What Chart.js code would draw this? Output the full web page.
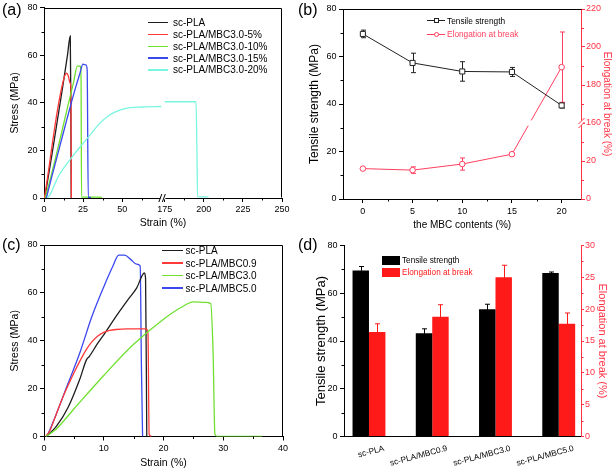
<!DOCTYPE html>
<html><head><meta charset="utf-8">
<script src="https://cdn.jsdelivr.net/npm/chart.js@4.4.0/dist/chart.umd.min.js"></script>
<style>
html,body{margin:0;padding:0;background:#fff;}
body{width:614px;height:470px;position:relative;overflow:hidden;font-family:'Liberation Sans',Arial,sans-serif;}
canvas{position:absolute;}
.lbl{position:absolute;white-space:nowrap;line-height:1;color:#000;}
.row{position:absolute;white-space:nowrap;display:flex;align-items:center;font-family:'Liberation Sans',Arial,sans-serif;}
</style></head><body>
<canvas id="ca" width="307" height="235" style="left:0;top:0"></canvas>
<canvas id="cb" width="307" height="235" style="left:307px;top:0"></canvas>
<canvas id="cc" width="307" height="235" style="left:0;top:235px"></canvas>
<canvas id="cd" width="307" height="235" style="left:307px;top:235px"></canvas>
<div class="lbl" style="left:2px;top:2px;font-size:16px">(a)</div>
<div class="lbl" style="left:298px;top:2px;font-size:16px">(b)</div>
<div class="lbl" style="left:2px;top:237px;font-size:16px">(c)</div>
<div class="lbl" style="left:298px;top:237px;font-size:16px">(d)</div>
<script>
// ---------------- Panel (a): stress-strain, MBC3.0 loading ----------------
const A_SERIES = ['sc-PLA','sc-PLA/MBC3.0-5%','sc-PLA/MBC3.0-10%','sc-PLA/MBC3.0-15%','sc-PLA/MBC3.0-20%'];
const A_COLORS = ['#1e1e1e','#ff3838','#6fe030','#3a48ee','#7af5e0'];
const A_X_TICKS = [0,25,50,175,200,225,250];
const A_X_MINOR = [12.5,37.5,62.5,187.5,212.5,237.5];
const A_Y_TICKS = [0,20,40,60,80];
const A_Y_MINOR = [10,30,50,70];
const A_BREAK = [76,173.8];
const A_PLA   = [[0.5,0],[3,10],[6,22],[9,34.5],[12,47],[15,60],[16.8,68.2],[17.1,45],[17.4,0]];
const A_MBC5  = [[0.3,0],[3,12],[6,26],[9,38.5],[11.5,47],[13.3,51.5],[14.4,52.5],[15.5,51.5],[16.6,48.5],[17.2,46],[17.5,0]];
const A_MBC10 = [[0.8,0],[5,10.5],[10,24],[15,38],[19,49],[21.3,55.5],[23.2,55.5],[23.7,50],[24,0.4],[30,0.4],[37,0.3]];
const A_MBC15 = [[1.5,0],[5,9],[10,21.5],[15,34],[20,46],[23,52.5],[24.9,56.3],[26.8,56],[27.6,54],[28.3,0.3],[30,0.3]];
const A_MBC20 = [[2,0],[4,1.5],[6,4.5],[8,7.5],[10,10],[14,13.8],[20,19],[25,23],[30,27],[35,31],[40,34],[45,36],[50,37.3],[55,38],[62,38.3],[75,38.5],[175,40.5],[195,40.5],[195.6,20],[196,0.6],[203,0.5]];

// ---------------- Panel (b): properties vs MBC content ----------------
const B_CONTENT = [0,5,10,15,20];
const B_X_TICKS = [0,5,10,15,20];
const B_X_MINOR = [2.5,7.5,12.5,17.5];
const B_Y_TICKS = [0,20,40,60,80];
const B_Y_MINOR = [10,30,50,70];
const B_Y2_TICKS = [0,20,160,180,200,220];
const B_Y2_MINOR = [10,30,170,190,210];
const B_BREAK = [40,160];
const B_TENSILE = [69.5,57.3,53.7,53.5,39.4];
const B_TENSILE_ERR = [1.6,4.1,4.1,1.9,1.1];
const B_ELONG = [16.0,15.2,18.4,23.6,189.4];
const B_ELONG_ERR = [0.6,1.7,3.2,0.6,18.5];

// ---------------- Panel (c): stress-strain, MBC grades ----------------
const C_SERIES = ['sc-PLA','sc-PLA/MBC0.9','sc-PLA/MBC3.0','sc-PLA/MBC5.0'];
const C_COLORS = ['#1e1e1e','#ff3838','#6fe030','#3a48ee'];
const C_X_TICKS = [0,10,20,30,40];
const C_X_MINOR = [5,15,25,35];
const C_Y_TICKS = [0,20,40,60,80];
const C_Y_MINOR = [10,30,50,70];
const C_PLA   = [[0.4,0],[2,4],[4,12],[6,24],[7.1,32],[7.6,33.5],[9,39],[10,42.5],[12,50],[14,57],[15.5,62],[16.8,68.3],[17,66],[17.2,0]];
const C_MBC09 = [[0.3,0],[1,2.5],[2,9],[3,15.5],[5,26.5],[6,31.5],[7,36],[8,39.5],[9,42],[10,43.5],[11,44.3],[12,44.7],[14,45],[17.1,45],[17.4,43],[17.6,0.8],[18,0]];
const C_MBC30 = [[0.3,0],[2,3],[5,11.5],[10,25.5],[15,38.5],[20,49],[23,54],[25,56.2],[27,56],[27.9,55.5],[28.3,35],[28.6,1],[29,0],[36.5,0]];
const C_MBC50 = [[0.5,0],[2,9],[4,22],[6,35],[8,50],[10,62.5],[11.5,71],[12.5,75.8],[13.5,75.8],[14.5,74],[15.5,72],[16.1,71.2],[16.3,30],[16.5,0]];

// ---------------- Panel (d): bars ----------------
const D_CATS = ['sc-PLA','sc-PLA/MBC0.9','sc-PLA/MBC3.0','sc-PLA/MBC5.0'];
const D_Y_TICKS = [0,20,40,60,80];
const D_Y_MINOR = [10,30,50,70];
const D_Y2_TICKS = [0,5,10,15,20,25,30];
const D_Y2_MINOR = [2.5,7.5,12.5,17.5,22.5,27.5];
const D_TENSILE = [69.5,43.2,53.3,68.5];
const D_TENSILE_ERR = [1.7,1.9,2.1,0.4];
const D_ELONG = [16.4,18.8,25.0,17.7];
const D_ELONG_ERR = [1.3,1.9,1.9,1.7];

const RED_B = '#ff3f5f';
const RED_D = '#ff1a1a';
const RED_AX = '#ff3344';

Chart.defaults.font.family = "'Liberation Sans', Arial, sans-serif";
Chart.defaults.color = '#000';
Chart.defaults.animation = false;
Chart.defaults.plugins.legend.display = false;
Chart.defaults.plugins.tooltip.enabled = false;

// broken-axis maps
const mapA = v => v <= A_BREAK[0] ? v : (v >= A_BREAK[1] ? v - (A_BREAK[1]-A_BREAK[0]) : A_BREAK[0]);
const mapB = v => v <= B_BREAK[0] ? v : (v >= B_BREAK[1] ? v - (B_BREAK[1]-B_BREAK[0]) : B_BREAK[0]);

function axis(o){
  const horiz = o.pos === 'bottom';
  const map = o.map || (v=>v);
  return {
    type:'linear', position:o.pos, min:o.min, max:o.max, offset:false,
    border:{display:true,color:o.color||'#000',width:1},
    grid:{display:true,drawOnChartArea:false,drawTicks:o.tickLen!==0,tickLength:o.tickLen===undefined?4:o.tickLen,color:o.color||'#000',offset:false},
    ticks:{autoSkip:false,maxRotation:o.rot||0,minRotation:o.rot||0,padding:o.pad===undefined?2:o.pad,
      color:o.color||'#000',font:{size:o.fs||9},labelOffset:o.labelOffset||0,
      callback:(v,i)=>o.labels[i]},
    afterBuildTicks:s=>{ s.ticks = o.values.map(v=>({value:map(v)})); },
    afterFit:s=>{ if(horiz) s.height=o.size; else s.width=o.size; },
    title:{display:!!o.title,text:o.title,color:o.color||'#000',font:{size:o.tfs||10},padding:o.tpad||0}
  };
}

function deco(cfg){
  return {
    id:'deco',
    beforeDatasetsDraw(chart){
      const ctx = chart.ctx;
      (cfg.err||[]).forEach(e=>{
        const meta = chart.getDatasetMeta(e.ds);
        const ys = chart.scales[meta.yAxisID];
        const map = e.map || (v=>v);
        ctx.save(); ctx.strokeStyle=e.color; ctx.lineWidth=1;
        meta.data.forEach((el,i)=>{
          const v=e.values[i], d=e.errs[i];
          const y1=ys.getPixelForValue(map(v-d)), y2=ys.getPixelForValue(map(v+d));
          const x=Math.round(el.x)+0.5;
          ctx.beginPath();
          ctx.moveTo(x,y1); ctx.lineTo(x,y2);
          ctx.moveTo(x-e.cap,y1); ctx.lineTo(x+e.cap,y1);
          ctx.moveTo(x-e.cap,y2); ctx.lineTo(x+e.cap,y2);
          ctx.stroke();
        });
        ctx.restore();
      });
    },
    afterDraw(chart){
      const ctx=chart.ctx, a=chart.chartArea;
      ctx.save(); ctx.lineWidth=1;
      const L=Math.round(a.left)+0.5, R=Math.round(a.right)-0.5, T=Math.round(a.top)+0.5, B=Math.round(a.bottom)-0.5;
      ctx.strokeStyle='#000';
      (cfg.frame||[]).forEach(side=>{
        ctx.beginPath();
        if(side==='top'){ctx.moveTo(L,T);ctx.lineTo(R,T);}
        if(side==='right'){ctx.moveTo(R,T);ctx.lineTo(R,B);}
        ctx.stroke();
      });
      (cfg.minor||[]).forEach(m=>{
        const s=chart.scales[m.axis]; const map=m.map||(v=>v);
        ctx.strokeStyle=m.color||'#000';
        m.values.forEach(v=>{
          const p=Math.round(s.getPixelForValue(map(v)))+0.5;
          ctx.beginPath();
          if(s.isHorizontal()){ctx.moveTo(p,a.bottom);ctx.lineTo(p,a.bottom+2.5);}
          else if(s.position==='left'){ctx.moveTo(a.left,p);ctx.lineTo(a.left-2.5,p);}
          else {ctx.moveTo(a.right,p);ctx.lineTo(a.right+2.5,p);}
          ctx.stroke();
        });
      });
      (cfg.breaks||[]).forEach(b=>{
        const s=chart.scales[b.axis]; const p=s.getPixelForValue(b.value);
        ctx.strokeStyle=b.color||'#000';
        if(s.isHorizontal()){
          const y=a.bottom;
          ctx.fillStyle='#fff'; ctx.fillRect(p-2.5,y-1.5,5,3);
          ctx.beginPath();
          ctx.moveTo(p-4,y+4);ctx.lineTo(p-1,y-4);
          ctx.moveTo(p-0.5,y+4);ctx.lineTo(p+2.5,y-4);
          ctx.stroke();
        } else {
          const x=a.right;
          ctx.fillStyle='#fff'; ctx.fillRect(x-1.5,p-2.5,3,5);
          ctx.beginPath();
          ctx.moveTo(x-3,p+1);ctx.lineTo(x+3,p-5);
          ctx.moveTo(x-3,p+5);ctx.lineTo(x+3,p-1);
          ctx.stroke();
        }
      });
      ctx.restore();
    }
  };
}

function curvePts(arr, map, brk){
  const out=[]; let prev=null;
  arr.forEach(([x,y])=>{
    if(brk && prev!==null && prev<brk[0] && x>brk[1]) out.push({x:map(brk[0]),y:null});
    out.push({x:map(x),y}); prev=x;
  });
  return out;
}
function curveDs(label,color,pts){
  return {label,data:pts,borderColor:color,backgroundColor:color,borderWidth:1.3,pointRadius:0,
    cubicInterpolationMode:'monotone',spanGaps:false};
}

// ---------- Chart A ----------
new Chart(document.getElementById('ca'),{
  type:'line',
  data:{datasets:[
    curveDs(A_SERIES[4],A_COLORS[4],curvePts(A_MBC20,mapA,A_BREAK)),
    curveDs(A_SERIES[3],A_COLORS[3],curvePts(A_MBC15,mapA,A_BREAK)),
    curveDs(A_SERIES[2],A_COLORS[2],curvePts(A_MBC10,mapA,A_BREAK)),
    curveDs(A_SERIES[1],A_COLORS[1],curvePts(A_MBC5,mapA,A_BREAK)),
    curveDs(A_SERIES[0],A_COLORS[0],curvePts(A_PLA,mapA,A_BREAK))
  ]},
  options:{responsive:false,devicePixelRatio:1,
    layout:{padding:{left:0,top:6,right:25,bottom:0}},
    scales:{
      x:axis({pos:'bottom',min:0,max:mapA(250),values:A_X_TICKS,labels:A_X_TICKS.map(String),map:mapA,size:37,pad:2.5,title:'Strain (%)',tfs:10.5,tpad:{top:0,bottom:6}}),
      y:axis({pos:'left',min:0,max:80,values:A_Y_TICKS,labels:A_Y_TICKS.map(String),size:44,pad:2.5,title:'Stress (MPa)',tfs:10.5,tpad:{top:9,bottom:0}})
    }
  },
  plugins:[deco({frame:['top','right'],
    minor:[{axis:'x',values:A_X_MINOR,map:mapA},{axis:'y',values:A_Y_MINOR}],
    breaks:[{axis:'x',value:A_BREAK[0]}]})]
});

// ---------- Chart B ----------
new Chart(document.getElementById('cb'),{
  type:'line',
  data:{datasets:[
    {label:'Tensile strength',data:B_CONTENT.map((c,i)=>({x:c,y:B_TENSILE[i]})),yAxisID:'y',
      borderColor:'#222',borderWidth:1,pointStyle:'rect',pointRadius:3.6,pointBackgroundColor:'#fff',pointBorderColor:'#222',pointBorderWidth:1},
    {label:'Elongation at break',data:B_CONTENT.map((c,i)=>({x:c,y:mapB(B_ELONG[i])})),yAxisID:'y2',
      borderColor:RED_B,borderWidth:1,pointStyle:'circle',pointRadius:2.8,pointBackgroundColor:'#fff',pointBorderColor:RED_B,pointBorderWidth:1,
      segment:{borderDash:c=>{
        const ys=c.chart.scales.y2; const py=ys.getPixelForValue(B_BREAK[0]);
        if((c.p0.y-py)*(c.p1.y-py)>=0) return undefined;
        const len=Math.hypot(c.p1.x-c.p0.x,c.p1.y-c.p0.y);
        const t=(c.p0.y-py)/(c.p0.y-c.p1.y);
        const gap=6;
        return [t*len-gap/2,gap,len];
      }}}
  ]},
  options:{responsive:false,devicePixelRatio:1,
    layout:{padding:{left:0,top:9,right:0,bottom:0}},
    scales:{
      x:axis({pos:'bottom',min:-2,max:22,values:B_X_TICKS,labels:B_X_TICKS.map(String),size:36,pad:3.5,title:'the MBC contents (%)',tfs:10,tpad:{top:0,bottom:4}}),
      y:axis({pos:'left',min:0,max:80,values:B_Y_TICKS,labels:B_Y_TICKS.map(String),size:36,pad:2.5,title:'Tensile strength (MPa)',tfs:12,tpad:{top:0,bottom:0}}),
      y2:axis({pos:'right',min:0,max:mapB(220),values:B_Y2_TICKS,labels:B_Y2_TICKS.map(String),map:mapB,color:RED_AX,size:32.5,tickLen:3.5,pad:1,title:'Elongation at break (%)',tfs:10,tpad:{top:1.3,bottom:0}})
    }
  },
  plugins:[deco({frame:['top'],
    err:[{ds:0,values:B_TENSILE,errs:B_TENSILE_ERR,color:'#222',cap:2.5},
         {ds:1,values:B_ELONG,errs:B_ELONG_ERR,color:RED_B,cap:2.5,map:mapB}],
    minor:[{axis:'x',values:B_X_MINOR},{axis:'y',values:B_Y_MINOR},{axis:'y2',values:B_Y2_MINOR,map:mapB,color:RED_AX}],
    breaks:[{axis:'y2',value:B_BREAK[0],color:RED_AX}]})]
});

// ---------- Chart C ----------
const C_DATA = [C_PLA,C_MBC09,C_MBC30,C_MBC50];
new Chart(document.getElementById('cc'),{
  type:'line',
  data:{datasets:[2,1,0,3].map(i=>curveDs(C_SERIES[i],C_COLORS[i],curvePts(C_DATA[i],v=>v,null)))},
  options:{responsive:false,devicePixelRatio:1,
    layout:{padding:{left:0,top:10,right:24,bottom:0}},
    scales:{
      x:axis({pos:'bottom',min:0,max:40,values:C_X_TICKS,labels:C_X_TICKS.map(String),size:33.5,pad:2.5,title:'Strain (%)',tfs:10.5,tpad:{top:0,bottom:1}}),
      y:axis({pos:'left',min:0,max:80,values:C_Y_TICKS,labels:C_Y_TICKS.map(String),size:44,pad:2.5,title:'Stress (MPa)',tfs:10.5,tpad:{top:8.7,bottom:0}})
    }
  },
  plugins:[deco({frame:['top','right'],
    minor:[{axis:'x',values:C_X_MINOR},{axis:'y',values:C_Y_MINOR}]})]
});

// ---------- Chart D ----------
new Chart(document.getElementById('cd'),{
  type:'bar',
  data:{datasets:[
    {label:'Tensile strength',data:D_CATS.map((c,i)=>({x:i,y:D_TENSILE[i]})),yAxisID:'y',backgroundColor:'#000',
      borderWidth:0,categoryPercentage:0.52,barPercentage:1},
    {label:'Elongation at break',data:D_CATS.map((c,i)=>({x:i,y:D_ELONG[i]})),yAxisID:'y2',backgroundColor:RED_D,
      borderWidth:0,categoryPercentage:0.52,barPercentage:1}
  ]},
  options:{responsive:false,devicePixelRatio:1,
    layout:{padding:{left:0,top:10.5,right:0,bottom:0}},
    scales:{
      x:axis({pos:'bottom',min:-0.395,max:3.352,values:D_CATS.map((c,i)=>i),labels:D_CATS,size:33.5,tickLen:0,pad:7,rot:15,fs:8.3,labelOffset:15}),
      y:axis({pos:'left',min:0,max:80,values:D_Y_TICKS,labels:D_Y_TICKS.map(String),size:37,pad:2.5,title:'Tensile strength (MPa)',tfs:13,tpad:{top:6.5,bottom:0}}),
      y2:axis({pos:'right',min:0,max:30,values:D_Y2_TICKS,labels:D_Y2_TICKS.map(String),color:RED_AX,size:33,tickLen:3,pad:1,title:'Elongation at break (%)',tfs:11,tpad:{top:5,bottom:0}})
    }
  },
  plugins:[deco({
    err:[{ds:0,values:D_TENSILE,errs:D_TENSILE_ERR,color:'#000',cap:2.5},
         {ds:1,values:D_ELONG,errs:D_ELONG_ERR,color:RED_D,cap:2.5}],
    minor:[{axis:'y',values:D_Y_MINOR},{axis:'y2',values:D_Y2_MINOR,color:RED_AX}]})]
});

// ---------- HTML legends ----------
function legend(items,o){
  items.forEach((it,i)=>{
    const row=document.createElement('div'); row.className='row';
    const cy=o.top+i*o.step;
    row.style.left=o.left+'px'; row.style.top=(cy-o.h/2)+'px'; row.style.height=o.h+'px'; row.style.fontSize=o.fs+'px';
    const sym=document.createElement('span');
    sym.style.cssText='position:relative;display:inline-block;width:'+o.symW+'px;height:'+o.h+'px;margin-right:'+o.gap+'px;flex:none';
    if(it.kind==='rect'){
      const r=document.createElement('span');
      r.style.cssText='position:absolute;left:0;top:'+((o.h-o.rectH)/2)+'px;width:'+o.symW+'px;height:'+o.rectH+'px;background:'+it.color;
      sym.appendChild(r);
    } else {
      const l=document.createElement('span');
      l.style.cssText='position:absolute;left:0;top:'+(o.h/2-o.lw/2)+'px;width:'+o.symW+'px;height:'+o.lw+'px;background:'+it.color;
      sym.appendChild(l);
      if(it.marker){
        const m=document.createElement('span'); const s=o.msize;
        m.style.cssText='position:absolute;box-sizing:border-box;left:'+(o.symW/2-s/2)+'px;top:'+(o.h/2-s/2)+'px;width:'+s+'px;height:'+s+'px;background:#fff;border:1px solid '+it.color+';border-radius:'+(it.marker==='circle'?'50%':'0');
        sym.appendChild(m);
      }
    }
    const t=document.createElement('span'); t.textContent=it.label; t.style.color=it.textColor||'#000';
    row.appendChild(sym); row.appendChild(t);
    document.body.appendChild(row);
  });
}
legend(A_SERIES.map((s,i)=>({label:s,color:A_COLORS[i]})),{left:148,top:22.7,step:11.8,h:11,fs:10,symW:20,gap:5,lw:1.5});
legend([{label:'Tensile strength',color:'#222',marker:'rect'},{label:'Elongation at break',color:RED_B,marker:'circle',textColor:RED_B}],
  {left:427,top:20.7,step:13.3,h:11,fs:8.3,symW:18,gap:2,lw:1,msize:5});
legend(C_SERIES.map((s,i)=>({label:s,color:C_COLORS[i]})),{left:162,top:250.7,step:12.5,h:11,fs:10,symW:21,gap:2.5,lw:1.5});
legend([{label:'Tensile strength',color:'#000',kind:'rect'},{label:'Elongation at break',color:RED_D,kind:'rect',textColor:RED_D}],
  {left:382,top:260,step:12.7,h:11,fs:8.2,symW:18,gap:2,rectH:9});
</script>
</body></html>
